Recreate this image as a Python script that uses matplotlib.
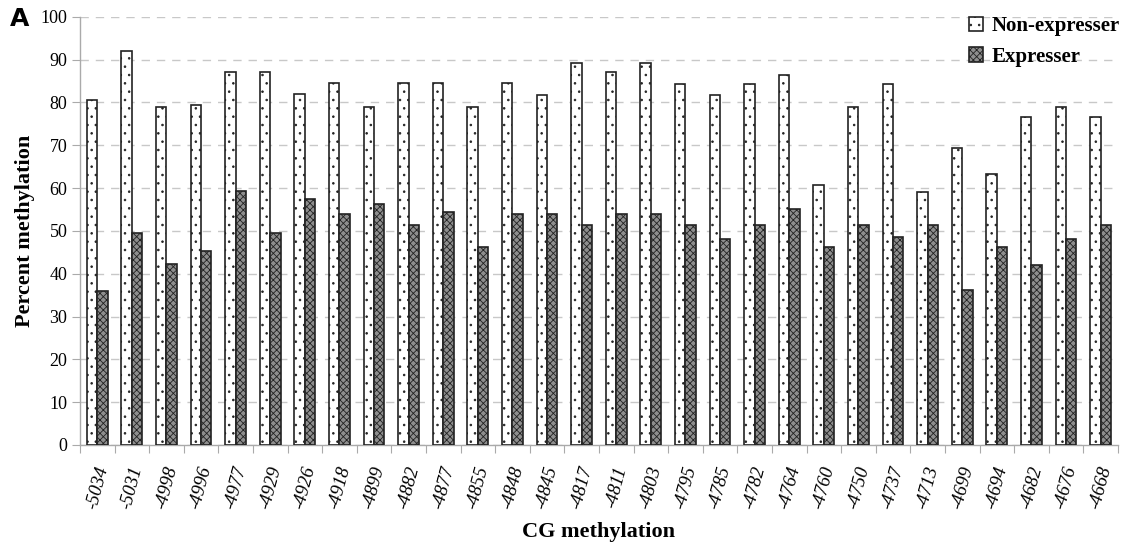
import numpy as np
import matplotlib.pyplot as plt

plt.rcParams['font.family'] = ['Liberation Serif', 'DejaVu Serif']
plt.rcParams['hatch.linewidth'] = 0.6

# CpG site positions
positions = ['-5034', '-5031', '-4998', '-4996', '-4977', '-4929', '-4926', '-4918',
             '-4899', '-4882', '-4877', '-4855', '-4848', '-4845', '-4817', '-4811',
             '-4803', '-4795', '-4785', '-4782', '-4764', '-4760', '-4750', '-4737',
             '-4713', '-4699', '-4694', '-4682', '-4676', '-4668']

non_expresser = [80.5, 92.0, 79.0, 79.5, 87.0, 87.0, 82.0, 84.5, 79.0, 84.5,
                 84.5, 79.0, 84.5, 81.7, 89.3, 87.0, 89.3, 84.3, 81.7, 84.3,
                 86.5, 60.8, 79.0, 84.3, 59.0, 69.3, 63.3, 76.7, 79.0, 76.7]

expresser = [36.0, 49.5, 42.3, 45.2, 59.2, 49.5, 57.5, 54.0, 56.3, 51.3,
             54.5, 46.3, 54.0, 54.0, 51.3, 54.0, 54.0, 51.3, 48.0, 51.3,
             55.0, 46.2, 51.3, 48.5, 51.3, 36.3, 46.2, 42.0, 48.0, 51.3]

x = np.arange(len(positions))
w = 0.3

fig = plt.figure(figsize=(11.23, 5.42), dpi=100)
ax = fig.add_axes([0.0712, 0.179, 0.9243, 0.79])

ax.bar(x - w / 2, non_expresser, w, facecolor='white', edgecolor='#222222',
       linewidth=1.2, hatch='..', label='Non-expresser', zorder=3)
ax.bar(x + w / 2, expresser, w, facecolor='#8e8e8e', edgecolor='#222222',
       linewidth=1.2, hatch='xxxxx', label='Expresser', zorder=3)

ax.set_xlim(-0.5, len(positions) - 0.5)
ax.set_ylim(0, 100)
ax.set_yticks(range(0, 101, 10))
ax.set_yticklabels([str(v) for v in range(0, 101, 10)], fontsize=13)

# ticks sit between the groups
ax.set_xticks(np.arange(-0.5, len(positions), 1.0), minor=False)
ax.set_xticklabels([])
ax.set_xticks(x, minor=True)
ax.set_xticklabels(positions, minor=True, rotation=75, fontsize=13.5,
                   style='italic')
ax.tick_params(axis='x', which='minor', length=0, pad=14)
ax.tick_params(axis='x', which='major', length=6, color='#aaaaaa')
ax.tick_params(axis='y', length=6, color='#aaaaaa', pad=3)

ax.grid(axis='y', linestyle=(0, (6, 5)), color='#c8c8c8', linewidth=1.0, zorder=0)
for side in ['top', 'right']:
    ax.spines[side].set_visible(False)
for side in ['left', 'bottom']:
    ax.spines[side].set_color('#aaaaaa')
    ax.spines[side].set_linewidth(1.0)

ax.set_ylabel('Percent methylation', fontsize=16, fontweight='bold', labelpad=4)
ax.set_xlabel('CG methylation', fontsize=16, fontweight='bold', labelpad=8)

leg = ax.legend(loc='upper right', bbox_to_anchor=(1.02, 1.045), frameon=False,
                prop={'size': 15, 'weight': 'bold'}, handlelength=0.7,
                handleheight=0.7, handletextpad=0.4, labelspacing=0.5)

fig.text(0.009, 0.965, 'A', fontsize=18, fontweight='bold', family='DejaVu Sans',
         va='center')

fig.savefig('out.png', dpi=100)
